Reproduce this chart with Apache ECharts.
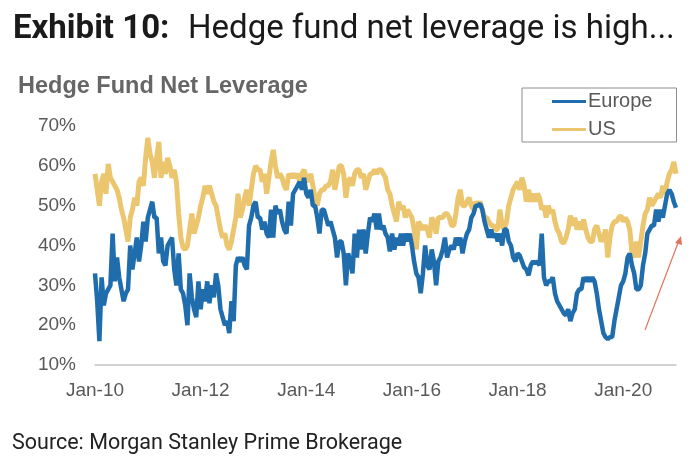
<!DOCTYPE html>
<html><head><meta charset="utf-8">
<script src="https://cdn.jsdelivr.net/npm/echarts@6/dist/echarts.min.js"></script>
<style>html,body{margin:0;padding:0;background:#fff}#c{width:700px;height:467px}</style>
</head><body><div id="c"></div>
<script>
const titleBold = "Exhibit 10:";
const titleRest = "Hedge fund net leverage is high...";
const subTitle = "Hedge Fund Net Leverage";
const sourceText = "Source: Morgan Stanley Prime Brokerage";
const seriesNames = ["Europe", "US"];
const monthNames = ["Jan","Feb","Mar","Apr","May","Jun","Jul","Aug","Sep","Oct","Nov","Dec"];
const yTicks = {min: 10, max: 70, step: 10};

const europe = [
33,26,16,32,25,28,29,30,43,31,37,32,29,26,28,29,40,34,38,42,36,40,46,41,
47,49,51,47,47,38,42,36,35,40,41,42,34,30,38,29,28,25,20,33,27,24,22,31,
24,29,26,31,25.5,30,27,33,30,24,22,20,21,18,26,21,35,37,36,37,35,34,45,47,
50,51,47,47,44,46,43,42,49,42,50,48,49,46,44,43,51,45,53,54,55,56,54,57,
53,52,54,50,50,47,43,49,49,47,45,46,44,42,37,41,41,38,30,38,36,33,43,37,
44,39,44,38,43,47,46,48,44,48,44,45,43,42,38.5,43,39,42,40,43,40,43,41,43,
40,36,33,32,28,33,40,35,34,39,36,30,36,37,39,42,37,39,40,39,42,40,42,38,
41,43,44,47,48,50,50,50.5,49,46,44,42,44,42,43,41,43,40,44,44,41,40,37,36,
38,37.5,36,34.5,34,32.5,35,36,35.5,36,35,43,32,30,31,31,32,28,26,25,24,23,22.5,24,
21,23,24,28,29,29,32,31,32,31,32,31,28,24,21,18,17,16.5,17,17,21,24,27,30,
31,33,37,38,35,33,29,29,30,35,38,43,44,45,45,49,46,49,47,50,53,54,53,51,49.5];

const us = [
58,54,50,56,58,53,60.5,57,56,55,54,52,49,47,44,41,47,49,52,50,56,57,55,62,
67,63,61,57,62,66,57,61,58,62,60,57,59,56,48,42,39.5,39,40,44,48,43,45,47,
50,52,55,53,55,53,51,50,47,44,42,43,40,39,41,44,47,53,47,49,52,54,50,54,
58,60,59,59,56,58,53,57,61,64,60,57,58,57,55,54,58,57,58,57,58,56,58,59,
57,56,58,55,52,50,53,54,54,55,55,56,59,54,57,60,60,58,52,56,57,55,58,59,
59,57,58,54,56,58,58,59,58,59,59,58,57,54,53,50,48,46,51,49,50,47,49,48,
47,44,39,46,45,44,45,44,42,47,46,43,47,47,47,48,48,47,45,45,48,52,54,50,
50,51,52,50,49,51,50,51,49,47,47,46,45,45,44,44,49,45,44,46,50,52,54,55,
56,54,57,55,51,54,51,53,51,53,52,49,50,47,50,48,49,46,44,43,41,40.5,42,44,
47.5,45,47,44,46,44,46.5,44,42,41,41,44,45,43,41,42,44,37,42,45,46,46,47,47.5,
46,47,46,44,38,37,41,37,41,45,48,49,52,50,51,52,53,52,55,53,56,58,59,61,58];

const categories = [];
for (let y = 10; y <= 20; y++) {
  for (const m of monthNames) { categories.push(m + "-" + y); categories.push(m + "-" + y + " mid"); }
}
categories.push("Jan-21");

const chart = echarts.init(document.getElementById('c'), null, {renderer: 'canvas'});
chart.setOption({
  animation: false,
  backgroundColor: '#ffffff',
  textStyle: {fontFamily: 'Liberation Sans'},
  grid: {left: 95, right: 24, top: 126, bottom: 102, containLabel: false},
  legend: {
    show: true, left: 522, top: 88, orient: 'vertical', icon: 'rect',
    padding: [3, 24, 2, 30], itemGap: 7, itemWidth: 34, itemHeight: 3,
    borderColor: '#8c8c8c', borderWidth: 1,
    textStyle: {fontSize: 20, color: '#595959', padding: [0, 0, 0, -3], lineHeight: 21},
    data: seriesNames
  },
  xAxis: {
    type: 'category', data: categories, boundaryGap: false,
    axisTick: {show: false},
    axisLine: {lineStyle: {color: '#c4c4c4', width: 1.5}},
    axisLabel: {
      fontSize: 19, color: '#595959', margin: 16,
      interval: (i) => i % 48 === 0 && i < 264,
      formatter: (v) => v
    },
    splitLine: {show: false}
  },
  yAxis: {
    type: 'value', min: yTicks.min, max: yTicks.max, interval: yTicks.step,
    axisLine: {show: false}, axisTick: {show: false}, splitLine: {show: false},
    axisLabel: {fontSize: 19, color: '#595959', margin: 19, formatter: '{value}%'}
  },
  series: [
    {name: seriesNames[0], type: 'line', data: europe, showSymbol: false, z: 3,
     lineStyle: {color: '#1f6dad', width: 4.5}, itemStyle: {color: '#1f6dad'}},
    {name: seriesNames[1], type: 'line', data: us, showSymbol: false, z: 2,
     lineStyle: {color: '#ecc66e', width: 5}, itemStyle: {color: '#ecc66e'}}
  ],
  graphic: [
    {type: 'text', left: 13, top: 13, style: {text: titleBold, fontFamily: 'Roboto', fontWeight: 'bold', fontSize: 33, fill: '#1a1a1a'}},
    {type: 'text', left: 188, top: 13, style: {text: titleRest, fontFamily: 'Roboto', fontSize: 33, fill: '#1a1a1a'}},
    {type: 'text', left: 18, top: 75, style: {text: subTitle, fontFamily: 'Liberation Sans', fontWeight: 'bold', fontSize: 23.5, fill: '#666666'}},
    {type: 'text', left: 12, top: 433, style: {text: sourceText, fontFamily: 'Roboto', fontSize: 21.5, fill: '#222222'}},
    {type: 'line', shape: {x1: 645, y1: 330, x2: 678, y2: 243}, style: {stroke: '#e0755f', lineWidth: 1.2}},
    {type: 'polygon', shape: {points: [[681, 236], [682, 245], [675, 243]]}, style: {fill: '#e0755f'}}
  ]
});
</script></body></html>
